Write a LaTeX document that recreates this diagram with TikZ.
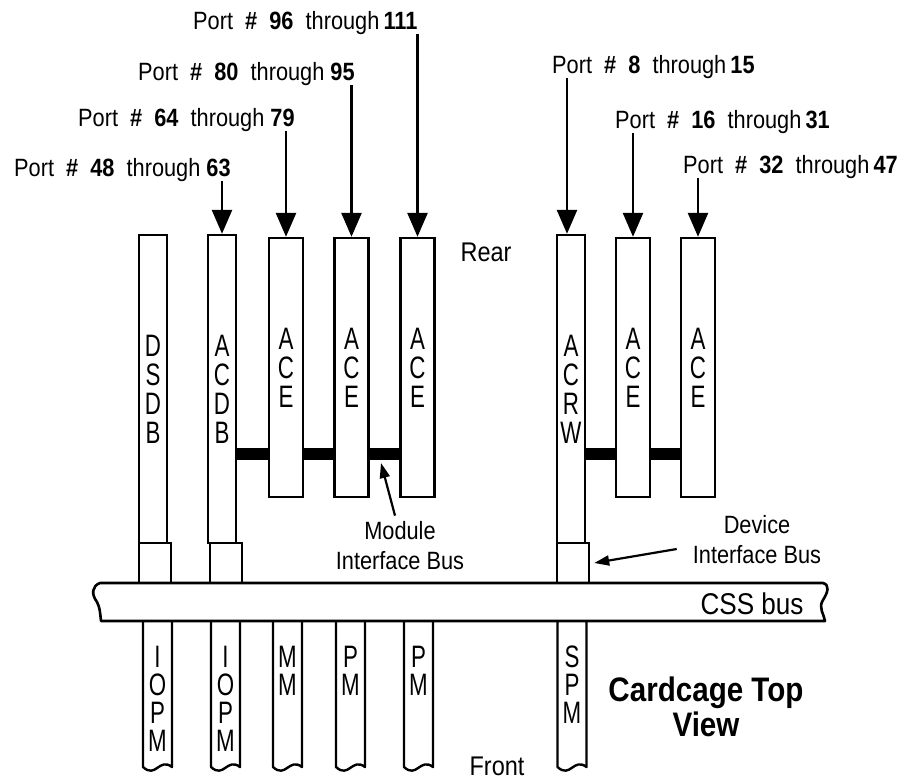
\documentclass[tikz,border=0pt]{standalone}
\usepackage{fontspec}
\setmainfont[FakeStretch=0.87]{Liberation Sans}
\newfontfamily\cardfont[FakeStretch=0.72]{Liberation Sans}
\usetikzlibrary{arrows.meta}

\begin{document}
\begin{tikzpicture}[x=1pt,y=-1pt]
\tikzset{
  card/.style={draw,line width=2.4pt,fill=white,inner sep=0pt,align=center,font=\cardfont\fontsize{31}{29}\selectfont},
  longcard/.style={card,minimum width=28pt,minimum height=308pt},
  acecard/.style={card,minimum width=34pt,minimum height=259pt},
  plug/.style={draw,line width=2.4pt,minimum width=32pt,minimum height=40pt,inner sep=0pt},
  frontcard/.style={line width=2.4pt,line join=round},
  frontlabel/.style={anchor=north,inner sep=0pt,align=center,font=\cardfont\fontsize{31}{28}\selectfont},
  portlabel/.style={anchor=base west,inner sep=0pt,font=\fontsize{25}{30}\selectfont},
  portarrow/.style={-{Triangle[length=24pt,width=20pt]},line width=2.6pt},
  busbar/.style={line width=12pt},
  pointer/.style={-{Triangle[length=15pt,width=10pt]},line width=2.2pt},
  note/.style={align=center,inner sep=0pt,font=\fontsize{25}{30}\selectfont}
}
\useasboundingbox (0,0) rectangle (908,782);
\node[longcard] (n_dsdb) at (153,389) {D\\S\\D\\B};
\node[longcard] (n_acdb) at (222,389) {A\\C\\D\\B};
\node[acecard] (n_ace1) at (286,367.5) {A\\C\\E};
\node[acecard] (n_ace2) at (351.5,367.5) {A\\C\\E};
\node[acecard] (n_ace3) at (417.5,367.5) {A\\C\\E};
\node[longcard] (n_acrw) at (571,389) {A\\C\\R\\W};
\node[acecard] (n_ace4) at (633,367.5) {A\\C\\E};
\node[acecard] (n_ace5) at (698,367.5) {A\\C\\E};
\node[plug] (n_plug1) at (155,563) {};
\node[plug] (n_plug2) at (226,563) {};
\node[plug] (n_plug3) at (573,563) {};
\draw[line width=2.6pt,line join=round] (100,583) -- (823,583)
  .. controls (830,585) and (828,592) .. (823,600)
  .. controls (818,608) and (824,614) .. (825,621) -- (101,621)
  .. controls (100,612) and (100,608) .. (97,602)
  .. controls (91,594) and (92,586) .. (100,583) -- cycle;
\foreach \nm/\cx/\txt in {iopm1/157.5/{I\\O\\P\\M},iopm2/225.5/{I\\O\\P\\M},mm/287.5/{M\\M},pm1/350.5/{P\\M},pm2/418.5/{P\\M},spm/572/{S\\P\\M}} {
  \draw[frontcard] (\cx-14.5,621) -- (\cx-14.5,767) .. controls (\cx-1.5,779) and (\cx+1.5,757) .. (\cx+14.5,767) -- (\cx+14.5,621);
  \node[frontlabel] (n_\nm) at (\cx,646) {\txt};
}
\node[portlabel] (n_p48) at (14,176) {Port\ \ \textbf{\#}\ \ \textbf{48}\ \ through\ \textbf{63}};
\node[portlabel] (n_p64) at (78,126) {Port\ \ \textbf{\#}\ \ \textbf{64}\ \ through\ \textbf{79}};
\node[portlabel] (n_p80) at (138,80) {Port\ \ \textbf{\#}\ \ \textbf{80}\ \ through\ \textbf{95}};
\node[portlabel] (n_p96) at (193,29) {Port\ \ \textbf{\#}\ \ \textbf{96}\ \ through\,\textbf{111}};
\node[portlabel] (n_p8) at (552,73) {Port\ \ \textbf{\#}\ \ \textbf{8}\ \ through\,\textbf{15}};
\node[portlabel] (n_p16) at (615,128) {Port\ \ \textbf{\#}\ \ \textbf{16}\ \ through\,\textbf{31}};
\node[portlabel] (n_p32) at (683,173) {Port\ \ \textbf{\#}\ \ \textbf{32}\ \ through\,\textbf{47}};
\draw[portarrow] (n_acdb.north |- n_p48.south) -- (n_acdb.north);
\draw[portarrow] (n_ace1.north |- n_p64.south) -- (n_ace1.north);
\draw[portarrow] (n_ace2.north |- n_p80.south) -- (n_ace2.north);
\draw[portarrow] (n_ace3.north |- n_p96.south) -- (n_ace3.north);
\draw[portarrow] ([xshift=-4pt]n_acrw.north |- n_p8.south) -- ([xshift=-4pt]n_acrw.north);
\draw[portarrow] (n_ace4.north |- n_p16.south) -- (n_ace4.north);
\draw[portarrow] (n_ace5.north |- n_p32.south) -- (n_ace5.north);
\coordinate (mib) at (0,454);
\draw[busbar] (n_acdb.east |- mib) -- (n_ace1.west |- mib);
\draw[busbar] (n_ace1.east |- mib) -- (n_ace2.west |- mib);
\draw[busbar] (n_ace2.east |- mib) -- (n_ace3.west |- mib);
\draw[busbar] (n_acrw.east |- mib) -- (n_ace4.west |- mib);
\draw[busbar] (n_ace4.east |- mib) -- (n_ace5.west |- mib);
\node[note,font=\fontsize{27}{30}\selectfont] (n_rear) at (486,252) {Rear};
\node[note,font=\fontsize{27}{30}\selectfont] (n_front) at (497,766) {Front};
\node[note] (n_mib) at (400,546) {Module\\Interface Bus};
\node[note] (n_dib) at (757,540) {Device\\Interface Bus};
\node[note,font=\fontsize{30}{34}\selectfont] (n_css) at (752,604) {CSS bus};
\node[note,font=\bfseries\fontsize{34}{35}\selectfont] (n_title) at (706,707) {Cardcage Top\\View};
\coordinate (mibtip) at (381,463);
\draw[pointer] ([xshift=-5pt,yshift=6pt]n_mib.north) -- (mibtip);
\draw[pointer] ([xshift=-16pt,yshift=-9pt]n_dib.west) -- ([xshift=4pt]n_plug3.east);
\end{tikzpicture}
\end{document}
